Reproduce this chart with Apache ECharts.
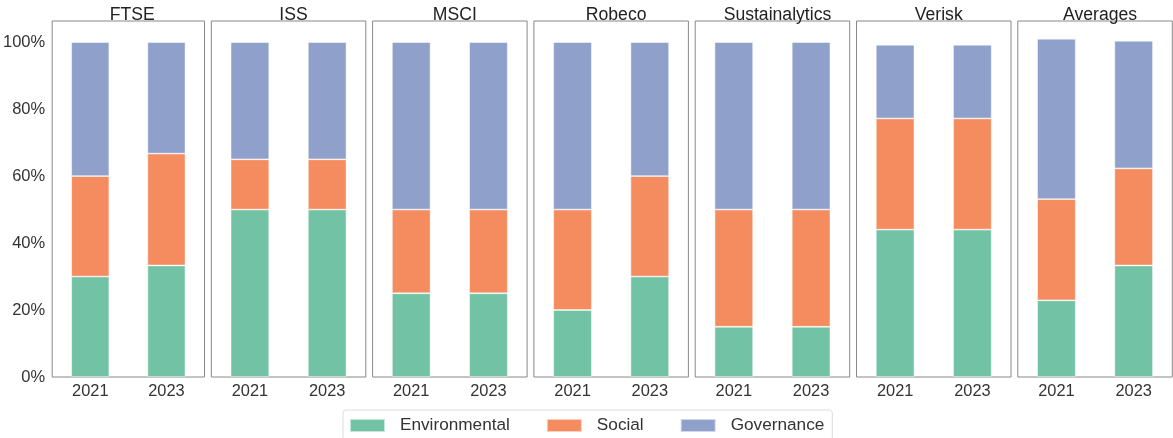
<!DOCTYPE html>
<html>
<head>
<meta charset="utf-8">
<script src="https://cdn.jsdelivr.net/npm/echarts@6/dist/echarts.min.js"></script>
<style>html,body{margin:0;padding:0;background:#fff}#c{width:1173px;height:438px}</style>
</head>
<body>
<div id="c"></div>
<script>
const panels = ['FTSE', 'ISS', 'MSCI', 'Robeco', 'Sustainalytics', 'Verisk', 'Averages'];
const years = ['2021', '2023'];
const seriesNames = ['Environmental', 'Social', 'Governance'];
const environmental = [[30, 33.3], [50, 50], [25, 25], [20, 30], [15, 15], [44, 44], [22.9, 33.3]];
const social = [[30, 33.4], [15, 15], [25, 25], [30, 30], [35, 35], [33.2, 33.2], [30.2, 29]];
const governance = [[40, 33.3], [35, 35], [50, 50], [50, 40], [50, 50], [22, 22], [47.9, 38.1]];
const yTicks = [0, 20, 40, 60, 80, 100];

const colors = ['#72c3a5', '#f48c5f', '#8fa0cb'];
const font = 'Liberation Sans, Arial, sans-serif';
const chart = echarts.init(document.getElementById('c'));
const grids = [], xAxes = [], yAxes = [], series = [], titles = [];
const left0 = 50, step = 161.3, w = 154.5;
const values = [environmental, social, governance];
panels.forEach((p, i) => {
  const l = left0 + i * step;
  grids.push({left: l, top: 21, width: w, bottom: 61, show: true, borderColor: '#888', borderWidth: 1, backgroundColor: '#fff'});
  titles.push({text: p, left: l + w / 2, top: 1, textAlign: 'center',
    textStyle: {fontFamily: font, fontSize: 17.6, fontWeight: 'normal', color: '#222'}});
  xAxes.push({type: 'category', gridIndex: i, data: years, boundaryGap: true,
    axisLine: {show: false}, axisTick: {show: false},
    axisLabel: {fontFamily: font, fontSize: 16.4, color: '#333', margin: 6}});
  yAxes.push({type: 'value', gridIndex: i, min: 0, max: 106.3, interval: 20,
    splitLine: {show: false}, axisLine: {show: false}, axisTick: {show: false},
    axisLabel: {show: i === 0, showMaxLabel: false, formatter: v => yTicks.includes(v) ? v + '%' : '',
      fontFamily: font, fontSize: 16.5, color: '#333', margin: 7}});
  seriesNames.forEach((n, k) => {
    series.push({name: n, type: 'bar', stack: 'p' + i, xAxisIndex: i, yAxisIndex: i,
      barWidth: '50%', data: values[k][i],
      itemStyle: {color: colors[k], borderColor: 'rgba(255,255,255,0.6)', borderWidth: 0.8},
      emphasis: {disabled: true}});
  });
});

chart.setOption({
  animation: false,
  title: titles,
  grid: grids,
  xAxis: xAxes,
  yAxis: yAxes,
  series: series,
  legend: {data: seriesNames, left: 343, top: 410, itemWidth: 35, itemHeight: 13, itemGap: 36,
    padding: [7, 8, 8, 6], borderColor: '#ddd', borderWidth: 1, borderRadius: 3,
    icon: 'rect',
    textStyle: {fontFamily: font, fontSize: 17.2, color: '#333', padding: [0, 0, 0, 10]}}
});
</script>
</body>
</html>
